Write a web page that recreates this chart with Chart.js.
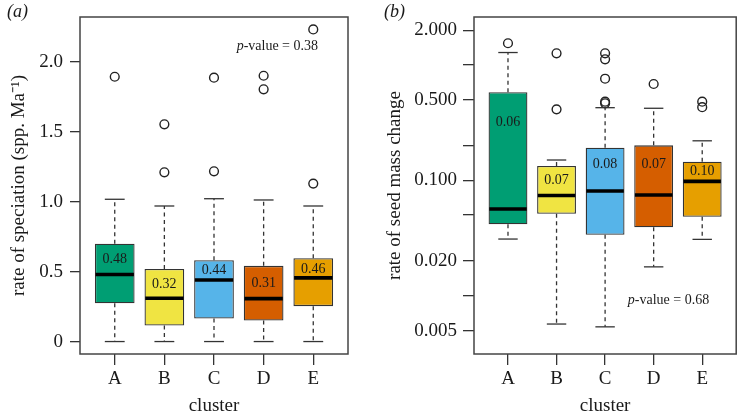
<!DOCTYPE html>
<html><head><meta charset="utf-8">
<script src="https://cdn.jsdelivr.net/npm/chart.js@4"></script>
<style>
html,body{margin:0;padding:0;background:#fff;}
#wrap{position:relative;width:742px;height:416px;overflow:hidden;}
.panel{position:absolute;top:0;width:371px;height:416px;}
#pa{left:0}#pb{left:371px}
canvas{display:block}
</style></head><body>
<div id="wrap">
<div class="panel" id="pa"><canvas id="ca" width="371" height="416"></canvas></div>
<div class="panel" id="pb"><canvas id="cb" width="371" height="416"></canvas></div>
</div>
<script>
// ---------- data ----------
const clusters = ['A', 'B', 'C', 'D', 'E'];
const clusterColors = ['#009E73', '#F0E442', '#56B4E9', '#D55E00', '#E69F00'];

// (a) rate of speciation
const spWhiskerLow  = [0, 0, 0, 0, 0];
const spQ1          = [0.274, 0.114, 0.164, 0.150, 0.253];
const spMedian      = [0.479, 0.310, 0.440, 0.307, 0.455];
const spQ3          = [0.700, 0.519, 0.581, 0.541, 0.596];
const spWhiskerHigh = [1.017, 0.969, 1.021, 1.012, 0.969];
const spOutliers    = [[1.893], [1.553, 1.210], [1.886, 1.217], [1.900, 1.803], [2.231, 1.129]];
const spLabels      = ['0.48', '0.32', '0.44', '0.31', '0.46'];
const spTicks       = [0, 0.5, 1.0, 1.5, 2.0];
const spTickLabels  = ['0', '0.5', '1.0', '1.5', '2.0'];
const spPValue      = '0.38';

// (b) rate of seed mass change (log scale)
const smWhiskerLow  = [0.0310, 0.00569, 0.00538, 0.0178, 0.0308];
const smQ1          = [0.0416, 0.0514, 0.0338, 0.0392, 0.0484];
const smMedian      = [0.0564, 0.0740, 0.0808, 0.0746, 0.0980];
const smQ3          = [0.580, 0.133, 0.192, 0.201, 0.145];
const smWhiskerHigh = [1.28, 0.150, 0.426, 0.421, 0.220];
const smOutliers    = [[1.54], [1.26, 0.412], [1.26, 1.118, 0.759, 0.480, 0.465], [0.683], [0.480, 0.430]];
const smLabels      = ['0.06', '0.07', '0.08', '0.07', '0.10'];
const smTicks       = [2, 1, 0.5, 0.2, 0.1, 0.05, 0.02, 0.01, 0.005];
const smTickLabels  = ['2.000', '', '0.500', '', '0.100', '', '0.020', '', '0.005'];
const smPValue      = '0.68';

// ---------- styling ----------
const FONT = "'Liberation Serif', 'Times New Roman', serif";
const INK = '#1a1a1a';
const LINE = '#333';

const boxExtras = {
  id: 'boxExtras',
  afterDatasetsDraw(chart) {
    const o = chart.options.plugins.boxExtras;
    const {ctx, chartArea} = chart;
    const xs = chart.scales.x, ys = chart.scales.y;
    const meta = chart.getDatasetMeta(0);
    ctx.save();
    const seg = (x1, y1, x2, y2) => { ctx.beginPath(); ctx.moveTo(x1, y1); ctx.lineTo(x2, y2); ctx.stroke(); };
    meta.data.forEach((bar, i) => {
      const xc = xs.getPixelForValue(i + 1);
      const half = bar.width / 2;
      const yLo = ys.getPixelForValue(o.low[i]);
      const yQ1 = ys.getPixelForValue(o.q1[i]);
      const yMed = ys.getPixelForValue(o.med[i]);
      const yQ3 = ys.getPixelForValue(o.q3[i]);
      const yHi = ys.getPixelForValue(o.high[i]);
      ctx.strokeStyle = LINE;
      ctx.lineWidth = 1.3;
      ctx.setLineDash([4, 3.5]);
      seg(xc, yQ3, xc, yHi);
      seg(xc, yQ1, xc, yLo);
      ctx.setLineDash([]);
      seg(xc - half / 2, yHi, xc + half / 2, yHi);
      seg(xc - half / 2, yLo, xc + half / 2, yLo);
      ctx.strokeStyle = '#000';
      ctx.lineWidth = 3.6;
      seg(xc - half + 0.7, yMed, xc + half - 0.7, yMed);
      ctx.fillStyle = INK;
      ctx.font = '14px ' + FONT;
      ctx.textAlign = 'center';
      ctx.textBaseline = 'middle';
      ctx.fillText(o.labels[i], xc, yQ3 + o.labelOffsets[i]);
    });
    // frame
    ctx.strokeStyle = '#444';
    ctx.lineWidth = 1.5;
    ctx.strokeRect(chartArea.left, chartArea.top, chartArea.right - chartArea.left, chartArea.bottom - chartArea.top);
    // p-value
    ctx.fillStyle = INK;
    ctx.textBaseline = 'middle';
    ctx.textAlign = 'left';
    const rest = '-value = ' + o.pValue;
    ctx.font = 'italic 14px ' + FONT;
    const wp = ctx.measureText('p').width;
    ctx.font = '14px ' + FONT;
    const wr = ctx.measureText(rest).width;
    const px = chartArea.right - o.pRight - wp - wr;
    const py = o.pFromTop ? chartArea.top + o.pY : chartArea.bottom - o.pY;
    ctx.font = 'italic 14px ' + FONT;
    ctx.fillText('p', px, py);
    ctx.font = '14px ' + FONT;
    ctx.fillText(rest, px + wp, py);
    // panel letter
    ctx.font = 'italic 18px ' + FONT;
    ctx.textAlign = 'left';
    ctx.fillText(o.panel, o.panelX, 12.5);
    ctx.restore();
  }
};

function makeChart(id, d) {
  const boxData = clusters.map((c, i) => ({x: i + 1, y: [d.q1[i], d.q3[i]]}));
  const outData = [];
  d.outliers.forEach((arr, i) => arr.forEach(v => outData.push({x: i + 1, y: v})));
  return new Chart(document.getElementById(id), {
    data: {
      datasets: [
        {type: 'bar', data: boxData, backgroundColor: clusterColors, borderColor: LINE, borderWidth: 1.3,
         borderSkipped: false, barPercentage: 0.8, categoryPercentage: 1, order: 2},
        {type: 'scatter', data: outData, pointStyle: 'circle', pointRadius: 4.4, pointBorderWidth: 1.4,
         pointBorderColor: '#222', pointBackgroundColor: 'rgba(0,0,0,0)', order: 1}
      ]
    },
    options: {
      responsive: false,
      animation: false,
      events: [],
      layout: {padding: {top: 17, right: d.padRight, left: 0, bottom: 0}},
      plugins: {
        legend: {display: false},
        tooltip: {enabled: false},
        boxExtras: {low: d.low, q1: d.q1, med: d.med, q3: d.q3, high: d.high, labels: d.labels,
          labelOffsets: d.labelOffsets, pValue: d.pValue, pRight: d.pRight, pY: d.pY, pFromTop: d.pFromTop,
          panel: d.panel, panelX: d.panelX}
      },
      scales: {
        x: {
          type: 'linear', min: 0.3, max: 5.7, offset: false,
          afterBuildTicks: s => { s.ticks = clusters.map((c, i) => ({value: i + 1})); },
          afterFit: s => { s.height = 62; },
          ticks: {callback: v => clusters[v - 1], color: INK, padding: 5, maxRotation: 0, autoSkip: false,
                  font: {family: FONT, size: 19, lineHeight: 1}},
          grid: {display: true, offset: false, drawOnChartArea: false, drawTicks: true, tickLength: 11, color: LINE, tickColor: LINE, lineWidth: 1.3},
          border: {display: false},
          title: {display: true, text: 'cluster', color: INK, font: {family: FONT, size: 19, lineHeight: 1}, padding: {top: 0, bottom: 0}}
        },
        y: {
          type: d.yType, min: d.yMin, max: d.yMax,
          afterBuildTicks: s => { s.ticks = d.ticks.map(v => ({value: v})); },
          afterFit: s => { s.width = d.yWidth; },
          ticks: {callback: (v, i) => d.tickLabels[d.ticks.indexOf(v)] ?? '', color: INK, padding: d.tickPad,
                  autoSkip: false, font: {family: FONT, size: 19, lineHeight: 1}},
          grid: {display: true, drawOnChartArea: false, drawTicks: true, tickLength: d.tickLen, color: LINE, tickColor: LINE, lineWidth: 1.3},
          border: {display: false},
          title: {display: true, text: d.title, color: INK, font: {family: FONT, size: 19, lineHeight: 1},
                  padding: {top: d.titlePad, bottom: 0}}
        }
      }
    },
    plugins: [boxExtras]
  });
}

makeChart('ca', {
  low: spWhiskerLow, q1: spQ1, med: spMedian, q3: spQ3, high: spWhiskerHigh, outliers: spOutliers,
  labels: spLabels, labelOffsets: [16, 15, 10, 17, 11], ticks: spTicks, tickLabels: spTickLabels,
  yType: 'linear', yMin: -0.089, yMax: 2.32, yWidth: 80, tickPad: 7, tickLen: 10, titlePad: 10,
  title: 'rate of speciation (spp. Ma\u207B\u00B9)', padRight: 23,
  pValue: spPValue, pRight: 30, pY: 29, pFromTop: true, panel: '(a)', panelX: 7
});

makeChart('cb', {
  low: smWhiskerLow, q1: smQ1, med: smMedian, q3: smQ3, high: smWhiskerHigh, outliers: smOutliers,
  labels: smLabels, labelOffsets: [30, 14, 17, 19, 10], ticks: smTicks, tickLabels: smTickLabels,
  yType: 'logarithmic', yMin: 0.00313, yMax: 2.60, yWidth: 103, tickPad: 6, tickLen: 11, titlePad: 14.5,
  title: 'rate of seed mass change', padRight: 1,
  pValue: smPValue, pRight: 27, pY: 54, pFromTop: false, panel: '(b)', panelX: 13
});
</script>
</body></html>
